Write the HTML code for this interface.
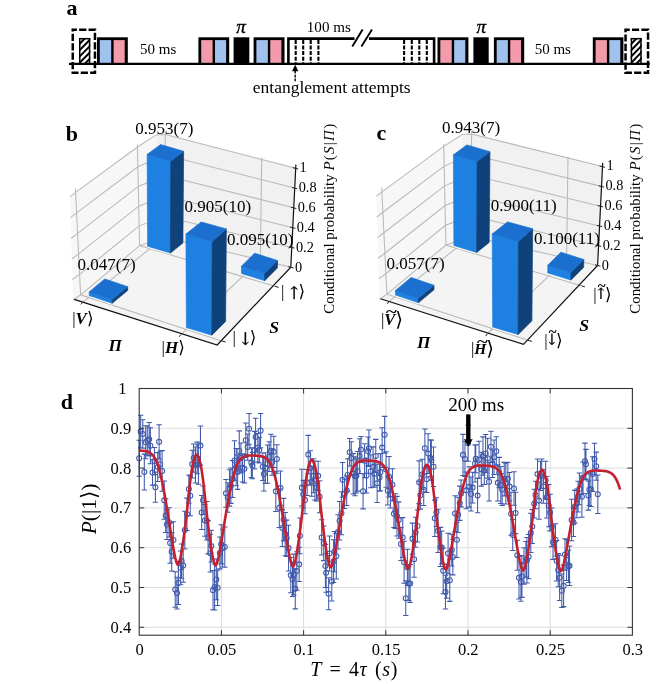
<!DOCTYPE html>
<html lang="en"><head><meta charset="utf-8"><title>Figure</title>
<style>html,body{margin:0;padding:0;background:#fff}svg{display:block}text{font-family:'Liberation Serif','DejaVu Serif',serif;fill:#000}</style>
</head><body>
<svg width="672" height="684" viewBox="0 0 672 684">
<rect width="672" height="684" fill="#fff"/>
<g id="pa">
<text x="66.4" y="14.8" font-size="22" font-weight="bold">a</text>
<line x1="69" y1="63.9" x2="649.8" y2="63.9" stroke="#000" stroke-width="2.3"/>
<rect x="97" y="37.3" width="30.8" height="27.6" fill="#000"/>
<rect x="99.8" y="40.1" width="11.4" height="22.7" fill="#a1c1ef"/>
<rect x="113.6" y="40.1" width="11.1" height="22.7" fill="#f29bab"/>
<rect x="198.4" y="37.3" width="30.8" height="27.6" fill="#000"/>
<rect x="201.2" y="40.1" width="11.4" height="22.7" fill="#f29bab"/>
<rect x="215" y="40.1" width="11.1" height="22.7" fill="#a1c1ef"/>
<rect x="253.6" y="37.3" width="30.9" height="27.6" fill="#000"/>
<rect x="256.4" y="40.1" width="11.45" height="22.7" fill="#a1c1ef"/>
<rect x="270.25" y="40.1" width="11.15" height="22.7" fill="#f29bab"/>
<rect x="437.5" y="37.3" width="30.9" height="27.6" fill="#000"/>
<rect x="440.3" y="40.1" width="11.45" height="22.7" fill="#f29bab"/>
<rect x="454.15" y="40.1" width="11.15" height="22.7" fill="#a1c1ef"/>
<rect x="493.9" y="37.3" width="30.3" height="27.6" fill="#000"/>
<rect x="496.7" y="40.1" width="11.15" height="22.7" fill="#a1c1ef"/>
<rect x="510.25" y="40.1" width="10.85" height="22.7" fill="#f29bab"/>
<rect x="592.8" y="37.3" width="30.6" height="27.6" fill="#000"/>
<rect x="595.6" y="40.1" width="11.3" height="22.7" fill="#f29bab"/>
<rect x="609.3" y="40.1" width="11" height="22.7" fill="#a1c1ef"/>
<rect x="233.6" y="37.3" width="15.7" height="27.6" fill="#000"/>
<rect x="473.4" y="37.3" width="15.3" height="27.6" fill="#000"/>
<path d="M288.4 63.9 V38.599999999999994 H354.5 M369 38.599999999999994 H434.1 V63.9" fill="none" stroke="#000" stroke-width="2.6"/>
<path d="M352.3 46.6 L362.6 29.6 M361.4 46.6 L372 29.6" stroke="#000" stroke-width="1.9" fill="none"/>
<line x1="295.7" y1="39.9" x2="295.7" y2="62.9" stroke="#000" stroke-width="2.1" stroke-dasharray="4 1.6"/>
<line x1="303.2" y1="39.9" x2="303.2" y2="62.9" stroke="#000" stroke-width="2.1" stroke-dasharray="4 1.6"/>
<line x1="310.7" y1="39.9" x2="310.7" y2="62.9" stroke="#000" stroke-width="2.1" stroke-dasharray="4 1.6"/>
<line x1="318.4" y1="39.9" x2="318.4" y2="62.9" stroke="#000" stroke-width="2.1" stroke-dasharray="4 1.6"/>
<line x1="404.1" y1="39.9" x2="404.1" y2="62.9" stroke="#000" stroke-width="2.1" stroke-dasharray="4 1.6"/>
<line x1="411.8" y1="39.9" x2="411.8" y2="62.9" stroke="#000" stroke-width="2.1" stroke-dasharray="4 1.6"/>
<line x1="419.3" y1="39.9" x2="419.3" y2="62.9" stroke="#000" stroke-width="2.1" stroke-dasharray="4 1.6"/>
<line x1="426.8" y1="39.9" x2="426.8" y2="62.9" stroke="#000" stroke-width="2.1" stroke-dasharray="4 1.6"/>
<rect x="72.75" y="29.8" width="22.2" height="43" fill="none" stroke="#000" stroke-width="2.5" stroke-dasharray="7.2 2.2" stroke-dashoffset="3"/>
<clipPath id="h1"><rect x="79" y="38" width="11.3" height="25.9"/></clipPath>
<path d="M78 32.9 L91.3 19.4 M78 39.2 L91.3 25.7 M78 45.5 L91.3 32 M78 51.8 L91.3 38.3 M78 58.1 L91.3 44.6 M78 64.4 L91.3 50.9 M78 70.7 L91.3 57.2 M78 77 L91.3 63.5 M78 83.3 L91.3 69.8 M78 89.6 L91.3 76.1" stroke="#000" stroke-width="2" fill="none" clip-path="url(#h1)"/>
<rect x="79.75" y="38.7" width="9.8" height="25.2" fill="none" stroke="#000" stroke-width="1.5"/>
<rect x="625.55" y="29.8" width="22.5" height="43" fill="none" stroke="#000" stroke-width="2.5" stroke-dasharray="7.2 2.2" stroke-dashoffset="3"/>
<clipPath id="h2"><rect x="630.7" y="38" width="11" height="25.9"/></clipPath>
<path d="M629.7 32.9 L642.7 19.4 M629.7 39.2 L642.7 25.7 M629.7 45.5 L642.7 32 M629.7 51.8 L642.7 38.3 M629.7 58.1 L642.7 44.6 M629.7 64.4 L642.7 50.9 M629.7 70.7 L642.7 57.2 M629.7 77 L642.7 63.5 M629.7 83.3 L642.7 69.8 M629.7 89.6 L642.7 76.1" stroke="#000" stroke-width="2" fill="none" clip-path="url(#h2)"/>
<rect x="631.45" y="38.7" width="9.5" height="25.2" fill="none" stroke="#000" stroke-width="1.5"/>
<text x="140.1" y="53.7" font-size="15">50 ms</text>
<text x="534.7" y="53.7" font-size="15">50 ms</text>
<text transform="translate(306.8 31.7) scale(1.05 1)" font-size="14.38">100 ms</text>
<text x="240.9" y="32.6" font-size="19" font-style="italic" text-anchor="middle" stroke="#000" stroke-width="0.35">π</text>
<text x="481.3" y="32.6" font-size="19" font-style="italic" text-anchor="middle" stroke="#000" stroke-width="0.35">π</text>
<text transform="translate(252.8 92.8) scale(1.11 1)" font-size="15.77">entanglement attempts</text>
<polygon points="295.2,64.8 298.4,71.2 292,71.2" fill="#000"/>
<line x1="295.2" y1="71" x2="295.2" y2="82" stroke="#000" stroke-width="1.4" stroke-dasharray="2.6 1.2"/>
</g>
<g transform="translate(0 0)">
<polygon points="70,197 75.6,192.4 137.3,147 156.2,134.9 156.4,239.6 139.6,245.6 80.6,294.8 73,300.2" fill="#f7f7f7"/>
<polygon points="156.2,134.9 165.2,133.9 295.6,167.6 290.8,267.2 164.8,237 156.4,239.6" fill="#f1f1f1"/>
<polygon points="73,300.2 139.6,245.6 156.4,239.6 164.8,237 290.8,267.2 217,344.8" fill="#f4f4f4"/>
<path d="M69.9 196.9 L75.6 192.4 L137.5 147 L156.2 134.9 L165.2 134.6 L295.6 168.3 M70.54 217.56 L76.6 212.88 L137.92 166.72 L165.12 155.08 L294.64 188.08 M71.18 238.22 L77.6 233.36 L138.34 186.44 L165.04 175.56 L293.68 207.86 M71.82 258.88 L78.6 253.84 L138.76 206.16 L164.96 196.04 L292.72 227.64 M72.46 279.54 L79.6 274.32 L139.18 225.88 L164.88 216.52 L291.76 247.42 M73.1 300.2 L80.6 294.8 L139.6 245.6 L164.8 237 L290.8 267.2 M75.4 188 L80.6 294.8 L221.7 340.9 M137.4 144.5 L139.6 245.6 L274.9 286.3 M261.7 157.4 L260.3 260.0 L180.8 334.6 M165.3 131.5 L164.8 237.0 L82.5 302.3" fill="none" stroke="#b9b9b9" stroke-width="1.05"/>
<polyline points="147.6,247.1 170.4,254" fill="none" stroke="#fff" stroke-width="1.2"/>
<polygon points="147.6,246.2 170.4,253.1 170.77,161 147.14,154.4" fill="#1e80e1" stroke="#1e80e1" stroke-width="0.7" stroke-linejoin="round"/>
<polygon points="170.4,253.1 182.9,243 183.63,151.3 170.77,161" fill="#0f427a" stroke="#0f427a" stroke-width="0.7" stroke-linejoin="round"/>
<polygon points="147.14,154.4 160.6,144.6 183.63,151.3 170.77,161" fill="#1b6fce" stroke="#1b6fce" stroke-width="0.7" stroke-linejoin="round"/>
<polyline points="89.2,296.5 112.1,304.2" fill="none" stroke="#fff" stroke-width="1.2"/>
<polygon points="89.2,295.6 112.1,303.3 112.11,299.6 89.18,291.9" fill="#1e80e1" stroke="#1e80e1" stroke-width="0.7" stroke-linejoin="round"/>
<polygon points="112.1,303.3 127.7,290.4 127.73,286.7 112.11,299.6" fill="#0f427a" stroke="#0f427a" stroke-width="0.7" stroke-linejoin="round"/>
<polygon points="89.18,291.9 104.8,278.9 127.73,286.7 112.11,299.6" fill="#1b6fce" stroke="#1b6fce" stroke-width="0.7" stroke-linejoin="round"/>
<polyline points="241.5,274.5 264.7,281.6" fill="none" stroke="#fff" stroke-width="1.2"/>
<polygon points="241.5,273.6 264.7,280.7 264.73,273.3 241.46,266.2" fill="#1e80e1" stroke="#1e80e1" stroke-width="0.7" stroke-linejoin="round"/>
<polygon points="264.7,280.7 277.4,267.9 277.46,260.5 264.73,273.3" fill="#0f427a" stroke="#0f427a" stroke-width="0.7" stroke-linejoin="round"/>
<polygon points="241.46,266.2 254.6,253.2 277.46,260.5 264.73,273.3" fill="#1b6fce" stroke="#1b6fce" stroke-width="0.7" stroke-linejoin="round"/>
<polyline points="186.4,328.5 211.8,336.1" fill="none" stroke="#fff" stroke-width="1.2"/>
<polygon points="186.4,327.6 211.8,335.2 212.17,241.5 185.93,234" fill="#1e80e1" stroke="#1e80e1" stroke-width="0.7" stroke-linejoin="round"/>
<polygon points="211.8,335.2 225.6,321.4 226.34,228.9 212.17,241.5" fill="#0f427a" stroke="#0f427a" stroke-width="0.7" stroke-linejoin="round"/>
<polygon points="185.93,234 201.2,222 226.34,228.9 212.17,241.5" fill="#1b6fce" stroke="#1b6fce" stroke-width="0.7" stroke-linejoin="round"/>
<path d="M74.2 299.4 L217.2 345.0 L290.8 267.2 L295.9 164.6" fill="none" stroke="#111" stroke-width="1.2"/>
<path d="M82.5 302.3 L81.0 304.4 M180.8 334.6 L179.3 336.7 M221.7 340.9 L225.6 342 M274.9 286.3 L278.6 287.4 M292.8 167.7 L298.2 169 M291.88 187.48 L297.28 188.78 M290.96 207.26 L296.36 208.56 M290.04 227.04 L295.44 228.34 M289.12 246.82 L294.52 248.12 M288.2 266.6 L293.6 267.9" fill="none" stroke="#222" stroke-width="1"/>
<text x="299.6" y="172.2" font-size="14.3">1</text>
<text x="298.68" y="192.12" font-size="14.3">0.8</text>
<text x="297.76" y="212.04" font-size="14.3">0.6</text>
<text x="296.84" y="231.96" font-size="14.3">0.4</text>
<text x="295.92" y="251.88" font-size="14.3">0.2</text>
<text x="295" y="271.8" font-size="14.3">0</text>
<text transform="translate(333.9 313.7) rotate(-90)" font-size="14.9">Conditional probability <tspan letter-spacing="1.3"><tspan font-style="italic">P</tspan>(<tspan font-style="italic">S</tspan>|<tspan font-style="italic">Π</tspan>)</tspan></text>
<text x="135.3" y="133.9" font-size="17">0.953(7)</text>
<text x="77.6" y="270.4" font-size="17">0.047(7)</text>
<text x="184.5" y="211.6" font-size="17">0.905(10)</text>
<text x="226.9" y="245.0" font-size="17">0.095(10)</text>
<text x="65.8" y="140.9" font-size="22" font-weight="bold">b</text>
<text x="108.6" y="350.8" font-size="17.3" font-weight="bold" font-style="italic">Π</text>
<text x="269.2" y="333.0" font-size="17.6" font-weight="bold" font-style="italic">S</text>
<text x="72.2" y="324.2" font-size="17">|<tspan font-weight="bold" font-style="italic" font-size="17">V</tspan><tspan font-size="17" dy="0">⟩</tspan></text>
<text x="161.6" y="353.4" font-size="17">|<tspan font-weight="bold" font-style="italic" font-size="17">H</tspan><tspan font-size="17" dy="0">⟩</tspan></text>
<text x="232.4" y="342.6" font-size="17">| <tspan font-family="DejaVu Math TeX Gyre" font-size="15.5" dx="1" dy="0" stroke="#000" stroke-width="0.3">↓</tspan><tspan dy="0">⟩</tspan></text>
<text x="281.0" y="297.4" font-size="17">| <tspan font-family="DejaVu Math TeX Gyre" font-size="15.5" dx="1" dy="0" stroke="#000" stroke-width="0.3">↑</tspan><tspan dy="0">⟩</tspan></text>
</g>
<g transform="translate(306.3 -0.6)">
<polygon points="70,197 75.6,192.4 137.3,147 156.2,134.9 156.4,239.6 139.6,245.6 80.6,294.8 73,300.2" fill="#f7f7f7"/>
<polygon points="156.2,134.9 165.2,133.9 296.1,166.5 291.3,266.1 164.8,237 156.4,239.6" fill="#f1f1f1"/>
<polygon points="73,300.2 139.6,245.6 156.4,239.6 164.8,237 291.3,266.1 217,344.8" fill="#f4f4f4"/>
<path d="M69.9 196.9 L75.6 192.4 L137.5 147 L156.2 134.9 L165.2 134.6 L296.1 167.2 M70.54 217.56 L76.6 212.88 L137.92 166.72 L165.12 155.08 L295.14 186.98 M71.18 238.22 L77.6 233.36 L138.34 186.44 L165.04 175.56 L294.18 206.76 M71.82 258.88 L78.6 253.84 L138.76 206.16 L164.96 196.04 L293.22 226.54 M72.46 279.54 L79.6 274.32 L139.18 225.88 L164.88 216.52 L292.26 246.32 M73.1 300.2 L80.6 294.8 L139.6 245.6 L164.8 237 L291.3 266.1 M75.4 188 L80.6 294.8 L221.7 340.9 M137.4 144.5 L139.6 245.6 L274.9 286.3 M261.7 157.4 L260.3 260.0 L180.8 334.6 M165.3 131.5 L164.8 237.0 L82.5 302.3" fill="none" stroke="#b9b9b9" stroke-width="1.05"/>
<polyline points="147.6,247.1 170.4,254" fill="none" stroke="#fff" stroke-width="1.2"/>
<polygon points="147.6,246.2 170.4,253.1 170.76,161.97 147.15,155.36" fill="#1e80e1" stroke="#1e80e1" stroke-width="0.7" stroke-linejoin="round"/>
<polygon points="170.4,253.1 182.9,243 183.63,152.26 170.76,161.97" fill="#0f427a" stroke="#0f427a" stroke-width="0.7" stroke-linejoin="round"/>
<polygon points="147.15,155.36 160.6,145.56 183.63,152.26 170.76,161.97" fill="#1b6fce" stroke="#1b6fce" stroke-width="0.7" stroke-linejoin="round"/>
<polyline points="89.2,296.5 112.1,304.2" fill="none" stroke="#fff" stroke-width="1.2"/>
<polygon points="89.2,295.6 112.1,303.3 112.12,298.81 89.18,291.11" fill="#1e80e1" stroke="#1e80e1" stroke-width="0.7" stroke-linejoin="round"/>
<polygon points="112.1,303.3 127.7,290.4 127.74,285.91 112.12,298.81" fill="#0f427a" stroke="#0f427a" stroke-width="0.7" stroke-linejoin="round"/>
<polygon points="89.18,291.11 104.8,278.11 127.74,285.91 112.12,298.81" fill="#1b6fce" stroke="#1b6fce" stroke-width="0.7" stroke-linejoin="round"/>
<polyline points="241.5,274.5 264.7,281.6" fill="none" stroke="#fff" stroke-width="1.2"/>
<polygon points="241.5,273.6 264.7,280.7 264.73,272.91 241.46,265.81" fill="#1e80e1" stroke="#1e80e1" stroke-width="0.7" stroke-linejoin="round"/>
<polygon points="264.7,280.7 277.4,267.9 277.46,260.11 264.73,272.91" fill="#0f427a" stroke="#0f427a" stroke-width="0.7" stroke-linejoin="round"/>
<polygon points="241.46,265.81 254.6,252.81 277.46,260.11 264.73,272.91" fill="#1b6fce" stroke="#1b6fce" stroke-width="0.7" stroke-linejoin="round"/>
<polyline points="186.4,328.5 211.8,336.1" fill="none" stroke="#fff" stroke-width="1.2"/>
<polygon points="186.4,327.6 211.8,335.2 212.17,242.02 185.93,234.52" fill="#1e80e1" stroke="#1e80e1" stroke-width="0.7" stroke-linejoin="round"/>
<polygon points="211.8,335.2 225.6,321.4 226.34,229.41 212.17,242.02" fill="#0f427a" stroke="#0f427a" stroke-width="0.7" stroke-linejoin="round"/>
<polygon points="185.93,234.52 201.2,222.51 226.34,229.41 212.17,242.02" fill="#1b6fce" stroke="#1b6fce" stroke-width="0.7" stroke-linejoin="round"/>
<path d="M74.2 299.4 L217.2 345.0 L291.3 266.1 L296.4 163.5" fill="none" stroke="#111" stroke-width="1.2"/>
<path d="M82.5 302.3 L81.0 304.4 M180.8 334.6 L179.3 336.7 M221.7 340.9 L225.6 342 M274.9 286.3 L278.6 287.4 M293.3 166.6 L298.7 167.9 M292.38 186.38 L297.78 187.68 M291.46 206.16 L296.86 207.46 M290.54 225.94 L295.94 227.24 M289.62 245.72 L295.02 247.02 M288.7 265.5 L294.1 266.8" fill="none" stroke="#222" stroke-width="1"/>
<text x="300.1" y="171.1" font-size="14.3">1</text>
<text x="299.18" y="191.02" font-size="14.3">0.8</text>
<text x="298.26" y="210.94" font-size="14.3">0.6</text>
<text x="297.34" y="230.86" font-size="14.3">0.4</text>
<text x="296.42" y="250.78" font-size="14.3">0.2</text>
<text x="295.5" y="270.7" font-size="14.3">0</text>
<text transform="translate(333.6 314.3) rotate(-90)" font-size="14.9">Conditional probability <tspan letter-spacing="1.3"><tspan font-style="italic">P</tspan>(<tspan font-style="italic">S</tspan>|<tspan font-style="italic">Π</tspan>)</tspan></text>
<text x="135.8" y="133.9" font-size="17">0.943(7)</text>
<text x="80.2" y="269.3" font-size="17">0.057(7)</text>
<text x="184.5" y="211.6" font-size="17">0.900(11)</text>
<text x="227.6" y="245.0" font-size="17">0.100(11)</text>
<text x="70.2" y="140.9" font-size="22" font-weight="bold">c</text>
<text x="110.8" y="349.0" font-size="17.3" font-weight="bold" font-style="italic">Π</text>
<text x="272.9" y="331.8" font-size="17.6" font-weight="bold" font-style="italic">S</text>
<text x="74.6" y="325.6" font-size="17">|<tspan font-weight="bold" font-style="italic" font-size="16.5">V</tspan><tspan font-size="20" dy="1.3">⟩</tspan></text>
<text transform="translate(85.0 316.6) scale(1.6 1)" font-size="13" font-weight="bold" text-anchor="middle">~</text>
<text x="164.6" y="354.2" font-size="17">|<tspan font-weight="bold" font-style="italic" font-size="15.5">H</tspan><tspan font-size="20" dy="1.3">⟩</tspan></text>
<text transform="translate(176.2 346.4) scale(1.6 1)" font-size="13" font-weight="bold" text-anchor="middle">~</text>
<text x="238.0" y="346.6" font-size="17">|<tspan font-family="DejaVu Math TeX Gyre" font-size="13.6" dx="0.6" dy="-2.6" stroke="#000" stroke-width="0.3">↓</tspan><tspan dy="2.6">⟩</tspan></text>
<text transform="translate(246.3 336.6) scale(1.25 1)" font-size="12" font-weight="bold" text-anchor="middle">~</text>
<text x="287.0" y="300.2" font-size="17">|<tspan font-family="DejaVu Math TeX Gyre" font-size="13.6" dx="0.6" dy="-2.6" stroke="#000" stroke-width="0.3">↑</tspan><tspan dy="2.6">⟩</tspan></text>
<text transform="translate(295.3 290.2) scale(1.25 1)" font-size="12" font-weight="bold" text-anchor="middle">~</text>
</g>
<g id="pd">
<path d="M221.4 388.5 V635.2 M303.6 388.5 V635.2 M385.8 388.5 V635.2 M468 388.5 V635.2 M550.2 388.5 V635.2 M139.2 428.3 H632.4 M139.2 468.1 H632.4 M139.2 507.9 H632.4 M139.2 547.7 H632.4 M139.2 587.5 H632.4 M139.2 627.3 H632.4" stroke="#dcdcdc" stroke-width="1" fill="none"/>
<clipPath id="cd"><rect x="139.2" y="388.5" width="493.2" height="246.7"/></clipPath>
<g><path d="M139.2 440.23 V476.24 M136.5 440.23 h5.4 M136.5 476.24 h5.4 M140.66 415.16 V447.86 M137.96 415.16 h5.4 M137.96 447.86 h5.4 M142.78 419.68 V448.13 M140.08 419.68 h5.4 M140.08 448.13 h5.4 M144.31 454.14 V489.99 M141.61 454.14 h5.4 M141.61 489.99 h5.4 M145.67 425.71 V458.67 M142.97 425.71 h5.4 M142.97 458.67 h5.4 M147.26 425.92 V454.9 M144.56 425.92 h5.4 M144.56 454.9 h5.4 M149.16 422.45 V456.08 M146.46 422.45 h5.4 M146.46 456.08 h5.4 M150.4 427.68 V463.66 M147.7 427.68 h5.4 M147.7 463.66 h5.4 M152.52 459.82 V485.13 M149.82 459.82 h5.4 M149.82 485.13 h5.4 M154.43 447.56 V474.63 M151.73 447.56 h5.4 M151.73 474.63 h5.4 M155.39 472.13 V502.28 M152.69 472.13 h5.4 M152.69 502.28 h5.4 M157.73 452.61 V481.46 M155.03 452.61 h5.4 M155.03 481.46 h5.4 M159.09 424.79 V458.95 M156.39 424.79 h5.4 M156.39 458.95 h5.4 M160.17 451.09 V477.26 M157.47 451.09 h5.4 M157.47 477.26 h5.4 M162.16 450.64 V491.16 M159.46 450.64 h5.4 M159.46 491.16 h5.4 M164.24 481.04 V519.29 M161.54 481.04 h5.4 M161.54 519.29 h5.4 M165.7 498.74 V532.46 M163 498.74 h5.4 M163 532.46 h5.4 M166.98 509.52 V539.44 M164.28 509.52 h5.4 M164.28 539.44 h5.4 M169.02 507.69 V536.95 M166.32 507.69 h5.4 M166.32 536.95 h5.4 M170.16 522.78 V563.24 M167.46 522.78 h5.4 M167.46 563.24 h5.4 M171.67 532.63 V570.9 M168.97 532.63 h5.4 M168.97 570.9 h5.4 M173.39 521.83 V558.32 M170.69 521.83 h5.4 M170.69 558.32 h5.4 M175.21 571.8 V607.24 M172.51 571.8 h5.4 M172.51 607.24 h5.4 M176.98 577.24 V608.91 M174.28 577.24 h5.4 M174.28 608.91 h5.4 M178.43 561.55 V604.47 M175.73 561.55 h5.4 M175.73 604.47 h5.4 M180.61 550.96 V584.71 M177.91 550.96 h5.4 M177.91 584.71 h5.4 M181.64 543.97 V578.29 M178.94 543.97 h5.4 M178.94 578.29 h5.4 M183.22 549.04 V582.19 M180.52 549.04 h5.4 M180.52 582.19 h5.4 M184.83 511.17 V548.91 M182.13 511.17 h5.4 M182.13 548.91 h5.4 M186.97 498.13 V530.4 M184.27 498.13 h5.4 M184.27 530.4 h5.4 M188.87 474.9 V503.21 M186.17 474.9 h5.4 M186.17 503.21 h5.4 M190.26 475.95 V515.69 M187.56 475.95 h5.4 M187.56 515.69 h5.4 M192.23 450.25 V478.04 M189.53 450.25 h5.4 M189.53 478.04 h5.4 M193.67 444.05 V472.14 M190.97 444.05 h5.4 M190.97 472.14 h5.4 M195.45 446.95 V483.09 M192.75 446.95 h5.4 M192.75 483.09 h5.4 M197.16 442.11 V473.71 M194.46 442.11 h5.4 M194.46 473.71 h5.4 M198.43 444.97 V484.27 M195.73 444.97 h5.4 M195.73 484.27 h5.4 M200.46 426.07 V465.14 M197.76 426.07 h5.4 M197.76 465.14 h5.4 M201.67 495.4 V529.53 M198.97 495.4 h5.4 M198.97 529.53 h5.4 M203.09 485.99 V514.42 M200.39 485.99 h5.4 M200.39 514.42 h5.4 M204.91 504.57 V536.26 M202.21 504.57 h5.4 M202.21 536.26 h5.4 M206.77 501.55 V539.93 M204.07 501.55 h5.4 M204.07 539.93 h5.4 M208.08 520.64 V553.85 M205.38 520.64 h5.4 M205.38 553.85 h5.4 M210.29 534.34 V571.99 M207.59 534.34 h5.4 M207.59 571.99 h5.4 M211.3 530.18 V562.03 M208.6 530.18 h5.4 M208.6 562.03 h5.4 M213.02 570.43 V609.84 M210.32 570.43 h5.4 M210.32 609.84 h5.4 M214.59 564.09 V609.91 M211.89 564.09 h5.4 M211.89 609.91 h5.4 M216.33 559.05 V599.83 M213.63 559.05 h5.4 M213.63 599.83 h5.4 M217.62 570.2 V605.42 M214.92 570.2 h5.4 M214.92 605.42 h5.4 M219.88 537.03 V568.88 M217.18 537.03 h5.4 M217.18 568.88 h5.4 M221.19 524.81 V563.88 M218.49 524.81 h5.4 M218.49 563.88 h5.4 M222.62 529.22 V567.03 M219.92 529.22 h5.4 M219.92 567.03 h5.4 M224.8 526.95 V567.2 M222.1 526.95 h5.4 M222.1 567.2 h5.4 M226.01 479.41 V507.22 M223.31 479.41 h5.4 M223.31 507.22 h5.4 M227.78 482.66 V512.24 M225.08 482.66 h5.4 M225.08 512.24 h5.4 M229.56 469.74 V506.1 M226.86 469.74 h5.4 M226.86 506.1 h5.4 M230.92 468.03 V503.35 M228.22 468.03 h5.4 M228.22 503.35 h5.4 M232.63 460.57 V497.47 M229.93 460.57 h5.4 M229.93 497.47 h5.4 M234.53 440.81 V480.34 M231.83 440.81 h5.4 M231.83 480.34 h5.4 M236.17 448.5 V485.73 M233.47 448.5 h5.4 M233.47 485.73 h5.4 M237.6 454.86 V489.39 M234.9 454.86 h5.4 M234.9 489.39 h5.4 M239.28 430.86 V471.32 M236.58 430.86 h5.4 M236.58 471.32 h5.4 M240.91 443 V472.87 M238.21 443 h5.4 M238.21 472.87 h5.4 M242.54 453.73 V482 M239.84 453.73 h5.4 M239.84 482 h5.4 M244.4 454.36 V483.01 M241.7 454.36 h5.4 M241.7 483.01 h5.4 M245.78 423.04 V457.39 M243.08 423.04 h5.4 M243.08 457.39 h5.4 M247.7 433.99 V460.22 M245 433.99 h5.4 M245 460.22 h5.4 M249.1 413.4 V444.21 M246.4 413.4 h5.4 M246.4 444.21 h5.4 M251.33 447.73 V477.53 M248.63 447.73 h5.4 M248.63 477.53 h5.4 M252.32 452.48 V478.69 M249.62 452.48 h5.4 M249.62 478.69 h5.4 M254.64 431.39 V468.91 M251.94 431.39 h5.4 M251.94 468.91 h5.4 M255.61 418.19 V455.8 M252.91 418.19 h5.4 M252.91 455.8 h5.4 M257.82 433.56 V461.9 M255.12 433.56 h5.4 M255.12 461.9 h5.4 M259.32 437.22 V462.99 M256.62 437.22 h5.4 M256.62 462.99 h5.4 M260.57 413.46 V447.8 M257.87 413.46 h5.4 M257.87 447.8 h5.4 M262.76 452.95 V480.59 M260.06 452.95 h5.4 M260.06 480.59 h5.4 M263.9 457.19 V490.9 M261.2 457.19 h5.4 M261.2 490.9 h5.4 M265.38 452.7 V483.39 M262.68 452.7 h5.4 M262.68 483.39 h5.4 M267.55 444.93 V483.2 M264.85 444.93 h5.4 M264.85 483.2 h5.4 M269.11 441.83 V471.49 M266.41 441.83 h5.4 M266.41 471.49 h5.4 M270.85 434.34 V467.49 M268.15 434.34 h5.4 M268.15 467.49 h5.4 M272.04 448.82 V475.16 M269.34 448.82 h5.4 M269.34 475.16 h5.4 M273.76 436.29 V467.42 M271.06 436.29 h5.4 M271.06 467.42 h5.4 M275.83 471.28 V511.44 M273.13 471.28 h5.4 M273.13 511.44 h5.4 M276.88 444.77 V473.15 M274.18 444.77 h5.4 M274.18 473.15 h5.4 M279.31 488.66 V527.42 M276.61 488.66 h5.4 M276.61 527.42 h5.4 M280.51 470.94 V505.28 M277.81 470.94 h5.4 M277.81 505.28 h5.4 M282.34 509.62 V546.41 M279.64 509.62 h5.4 M279.64 546.41 h5.4 M283.69 498.36 V540.89 M280.99 498.36 h5.4 M280.99 540.89 h5.4 M285.2 512.5 V555.7 M282.5 512.5 h5.4 M282.5 555.7 h5.4 M286.68 520.14 V556.47 M283.98 520.14 h5.4 M283.98 556.47 h5.4 M288.52 525.2 V571.06 M285.82 525.2 h5.4 M285.82 571.06 h5.4 M290.81 557.52 V592.74 M288.11 557.52 h5.4 M288.11 592.74 h5.4 M292.56 561.94 V596.46 M289.86 561.94 h5.4 M289.86 596.46 h5.4 M293.68 554.1 V594.86 M290.98 554.1 h5.4 M290.98 594.86 h5.4 M295.26 568.82 V608.87 M292.56 568.82 h5.4 M292.56 608.87 h5.4 M296.8 551.76 V590.22 M294.1 551.76 h5.4 M294.1 590.22 h5.4 M299.13 547.29 V581.43 M296.43 547.29 h5.4 M296.43 581.43 h5.4 M299.88 517.91 V553.72 M297.18 517.91 h5.4 M297.18 553.72 h5.4 M301.87 469.32 V505.96 M299.17 469.32 h5.4 M299.17 505.96 h5.4 M303.27 480.36 V507.97 M300.57 480.36 h5.4 M300.57 507.97 h5.4 M304.99 486.46 V513.77 M302.29 486.46 h5.4 M302.29 513.77 h5.4 M307.16 469.47 V495.44 M304.46 469.47 h5.4 M304.46 495.44 h5.4 M308.24 435.39 V473.81 M305.54 435.39 h5.4 M305.54 473.81 h5.4 M310.23 450.78 V485.34 M307.53 450.78 h5.4 M307.53 485.34 h5.4 M311.69 466.74 V496.3 M308.99 466.74 h5.4 M308.99 496.3 h5.4 M313.47 458.83 V492.68 M310.77 458.83 h5.4 M310.77 492.68 h5.4 M314.94 461.13 V500.07 M312.24 461.13 h5.4 M312.24 500.07 h5.4 M316.54 473.92 V500.91 M313.84 473.92 h5.4 M313.84 500.91 h5.4 M318.18 461.2 V490.4 M315.48 461.2 h5.4 M315.48 490.4 h5.4 M319.63 480.75 V512.82 M316.93 480.75 h5.4 M316.93 512.82 h5.4 M321.67 519.81 V555.03 M318.97 519.81 h5.4 M318.97 555.03 h5.4 M323.71 525.97 V560.6 M321.01 525.97 h5.4 M321.01 560.6 h5.4 M325.41 544.37 V587.54 M322.71 544.37 h5.4 M322.71 587.54 h5.4 M326.15 553.51 V592.16 M323.45 553.51 h5.4 M323.45 592.16 h5.4 M328.67 577.77 V609.74 M325.97 577.77 h5.4 M325.97 609.74 h5.4 M329.53 535.9 V571.01 M326.83 535.9 h5.4 M326.83 571.01 h5.4 M331.79 561.99 V601 M329.09 561.99 h5.4 M329.09 601 h5.4 M333.58 539.83 V582.47 M330.88 539.83 h5.4 M330.88 582.47 h5.4 M334.51 531.4 V571.7 M331.81 531.4 h5.4 M331.81 571.7 h5.4 M336.31 533.47 V579.02 M333.61 533.47 h5.4 M333.61 579.02 h5.4 M338 514.84 V549.06 M335.3 514.84 h5.4 M335.3 549.06 h5.4 M339.62 501.58 V539.96 M336.92 501.58 h5.4 M336.92 539.96 h5.4 M341.43 491.66 V534.8 M338.73 491.66 h5.4 M338.73 534.8 h5.4 M342.57 462.57 V497.17 M339.87 462.57 h5.4 M339.87 497.17 h5.4 M344.62 479.16 V508.55 M341.92 479.16 h5.4 M341.92 508.55 h5.4 M346.72 475.65 V505.53 M344.02 475.65 h5.4 M344.02 505.53 h5.4 M347.58 458.84 V491.26 M344.88 458.84 h5.4 M344.88 491.26 h5.4 M349.62 438.5 V466.05 M346.92 438.5 h5.4 M346.92 466.05 h5.4 M351.26 441.7 V474.54 M348.56 441.7 h5.4 M348.56 474.54 h5.4 M353.2 453.62 V494.09 M350.5 453.62 h5.4 M350.5 494.09 h5.4 M355.02 456.89 V495.74 M352.32 456.89 h5.4 M352.32 495.74 h5.4 M356.41 458.73 V493 M353.71 458.73 h5.4 M353.71 493 h5.4 M357.63 451.49 V491.13 M354.93 451.49 h5.4 M354.93 491.13 h5.4 M359.66 438.77 V473.44 M356.96 438.77 h5.4 M356.96 473.44 h5.4 M360.99 436.53 V462.46 M358.29 436.53 h5.4 M358.29 462.46 h5.4 M363.05 473.82 V508.87 M360.35 473.82 h5.4 M360.35 508.87 h5.4 M364.6 443.79 V477.77 M361.9 443.79 h5.4 M361.9 477.77 h5.4 M366.54 458.02 V492.92 M363.84 458.02 h5.4 M363.84 492.92 h5.4 M368.08 436.95 V465.7 M365.38 436.95 h5.4 M365.38 465.7 h5.4 M368.91 430.08 V466.37 M366.21 430.08 h5.4 M366.21 466.37 h5.4 M370.8 454.65 V487.78 M368.1 454.65 h5.4 M368.1 487.78 h5.4 M373.01 446.89 V486.92 M370.31 446.89 h5.4 M370.31 486.92 h5.4 M374.39 460.51 V487.2 M371.69 460.51 h5.4 M371.69 487.2 h5.4 M375.78 439.39 V472.42 M373.08 439.39 h5.4 M373.08 472.42 h5.4 M377.14 464.16 V502.42 M374.44 464.16 h5.4 M374.44 502.42 h5.4 M379.48 463.91 V491.31 M376.78 463.91 h5.4 M376.78 491.31 h5.4 M380.38 453.62 V490.67 M377.68 453.62 h5.4 M377.68 490.67 h5.4 M382.11 427.74 V467.46 M379.41 427.74 h5.4 M379.41 467.46 h5.4 M384.64 416.35 V453.12 M381.94 416.35 h5.4 M381.94 453.12 h5.4 M386.07 451.75 V487.33 M383.37 451.75 h5.4 M383.37 487.33 h5.4 M387.81 476.2 V505.07 M385.11 476.2 h5.4 M385.11 505.07 h5.4 M389.07 456.55 V496.98 M386.37 456.55 h5.4 M386.37 496.98 h5.4 M390.41 480.66 V507.9 M387.71 480.66 h5.4 M387.71 507.9 h5.4 M392.41 468.67 V500.92 M389.71 468.67 h5.4 M389.71 500.92 h5.4 M393.95 499.8 V527.56 M391.25 499.8 h5.4 M391.25 527.56 h5.4 M395.33 493.79 V528.54 M392.63 493.79 h5.4 M392.63 528.54 h5.4 M396.98 496.36 V535.94 M394.28 496.36 h5.4 M394.28 535.94 h5.4 M398.71 501.85 V538.3 M396.01 501.85 h5.4 M396.01 538.3 h5.4 M401.03 527.48 V560.51 M398.33 527.48 h5.4 M398.33 560.51 h5.4 M402.72 517.61 V557.54 M400.02 517.61 h5.4 M400.02 557.54 h5.4 M404.08 541.16 V583.25 M401.38 541.16 h5.4 M401.38 583.25 h5.4 M405.75 580.74 V615.56 M403.05 580.74 h5.4 M403.05 615.56 h5.4 M407.4 549.21 V585.51 M404.7 549.21 h5.4 M404.7 585.51 h5.4 M408.83 566.28 V600.62 M406.13 566.28 h5.4 M406.13 600.62 h5.4 M410.14 564.4 V602.44 M407.44 564.4 h5.4 M407.44 602.44 h5.4 M412.48 523.12 V554.16 M409.78 523.12 h5.4 M409.78 554.16 h5.4 M414.12 541.25 V577.34 M411.42 541.25 h5.4 M411.42 577.34 h5.4 M415.6 517.17 V547.31 M412.9 517.17 h5.4 M412.9 547.31 h5.4 M417.46 509.92 V541.95 M414.76 509.92 h5.4 M414.76 541.95 h5.4 M419.15 460.86 V503.62 M416.45 460.86 h5.4 M416.45 503.62 h5.4 M420.33 481.61 V509.11 M417.63 481.61 h5.4 M417.63 509.11 h5.4 M422.22 459.23 V489.57 M419.52 459.23 h5.4 M419.52 489.57 h5.4 M423.73 474.22 V505.53 M421.03 474.22 h5.4 M421.03 505.53 h5.4 M424.88 429.03 V467.29 M422.18 429.03 h5.4 M422.18 467.29 h5.4 M426.72 465.87 V492.54 M424.02 465.87 h5.4 M424.02 492.54 h5.4 M428.12 433.75 V473.46 M425.42 433.75 h5.4 M425.42 473.46 h5.4 M430.57 439.69 V476.56 M427.87 439.69 h5.4 M427.87 476.56 h5.4 M431.36 440.19 V480.1 M428.66 440.19 h5.4 M428.66 480.1 h5.4 M433.51 446.95 V486.44 M430.81 446.95 h5.4 M430.81 486.44 h5.4 M434.8 500.1 V536.56 M432.1 500.1 h5.4 M432.1 536.56 h5.4 M436.42 497.77 V526.57 M433.72 497.77 h5.4 M433.72 526.57 h5.4 M438.08 509.29 V552.45 M435.38 509.29 h5.4 M435.38 552.45 h5.4 M440.42 527.36 V566.44 M437.72 527.36 h5.4 M437.72 566.44 h5.4 M441.69 531.05 V564.02 M438.99 531.05 h5.4 M438.99 564.02 h5.4 M443.18 547.9 V593.81 M440.48 547.9 h5.4 M440.48 593.81 h5.4 M445.48 575.19 V608.94 M442.78 575.19 h5.4 M442.78 608.94 h5.4 M446.67 564.12 V598.31 M443.97 564.12 h5.4 M443.97 598.31 h5.4 M448.08 533.18 V573.65 M445.38 533.18 h5.4 M445.38 573.65 h5.4 M449.79 559.24 V601.35 M447.09 559.24 h5.4 M447.09 601.35 h5.4 M451.75 534.17 V566 M449.05 534.17 h5.4 M449.05 566 h5.4 M452.83 539.26 V574.88 M450.13 539.26 h5.4 M450.13 574.88 h5.4 M455.1 495.72 V531.42 M452.4 495.72 h5.4 M452.4 531.42 h5.4 M456.87 522.17 V557.41 M454.17 522.17 h5.4 M454.17 557.41 h5.4 M458.11 497.26 V532.43 M455.41 497.26 h5.4 M455.41 532.43 h5.4 M459.72 486.13 V520.37 M457.02 486.13 h5.4 M457.02 520.37 h5.4 M461.07 479.92 V506.86 M458.37 479.92 h5.4 M458.37 506.86 h5.4 M462.99 434.35 V475.42 M460.29 434.35 h5.4 M460.29 475.42 h5.4 M464.97 441.49 V476.47 M462.27 441.49 h5.4 M462.27 476.47 h5.4 M466.27 471.95 V508.76 M463.57 471.95 h5.4 M463.57 508.76 h5.4 M468.12 425.3 V461.19 M465.42 425.3 h5.4 M465.42 461.19 h5.4 M469.19 466.65 V507.12 M466.49 466.65 h5.4 M466.49 507.12 h5.4 M471.01 476.98 V510.9 M468.31 476.98 h5.4 M468.31 510.9 h5.4 M472.64 472.3 V502.95 M469.94 472.3 h5.4 M469.94 502.95 h5.4 M475.05 444.99 V481.94 M472.35 444.99 h5.4 M472.35 481.94 h5.4 M475.77 444.85 V472.7 M473.07 444.85 h5.4 M473.07 472.7 h5.4 M477.58 478.42 V512.81 M474.88 478.42 h5.4 M474.88 512.81 h5.4 M479.05 441.33 V478.01 M476.35 441.33 h5.4 M476.35 478.01 h5.4 M481.29 452.15 V486.13 M478.59 452.15 h5.4 M478.59 486.13 h5.4 M482.95 436.85 V475.17 M480.25 436.85 h5.4 M480.25 475.17 h5.4 M484.29 457.23 V484.43 M481.59 457.23 h5.4 M481.59 484.43 h5.4 M485.63 434.56 V472.45 M482.93 434.56 h5.4 M482.93 472.45 h5.4 M487.66 438.2 V478.14 M484.96 438.2 h5.4 M484.96 478.14 h5.4 M489.05 462.57 V501.04 M486.35 462.57 h5.4 M486.35 501.04 h5.4 M490.94 431.15 V462.17 M488.24 431.15 h5.4 M488.24 462.17 h5.4 M492.53 450 V477.42 M489.83 450 h5.4 M489.83 477.42 h5.4 M494.03 439.98 V474.49 M491.33 439.98 h5.4 M491.33 474.49 h5.4 M496.28 436.71 V465.94 M493.58 436.71 h5.4 M493.58 465.94 h5.4 M497.78 464.7 V501.04 M495.08 464.7 h5.4 M495.08 501.04 h5.4 M499.21 457.35 V487.64 M496.51 457.35 h5.4 M496.51 487.64 h5.4 M500.78 466.55 V503.42 M498.08 466.55 h5.4 M498.08 503.42 h5.4 M502.14 473.58 V505.39 M499.44 473.58 h5.4 M499.44 505.39 h5.4 M504.27 462.35 V495.87 M501.57 462.35 h5.4 M501.57 495.87 h5.4 M505.82 463.2 V503.97 M503.12 463.2 h5.4 M503.12 503.97 h5.4 M507.86 462.3 V495.42 M505.16 462.3 h5.4 M505.16 495.42 h5.4 M509.56 472.54 V500.65 M506.86 472.54 h5.4 M506.86 500.65 h5.4 M511.05 492.29 V535.34 M508.35 492.29 h5.4 M508.35 535.34 h5.4 M512.75 519.56 V550.48 M510.05 519.56 h5.4 M510.05 550.48 h5.4 M514.03 471.84 V505.22 M511.33 471.84 h5.4 M511.33 505.22 h5.4 M515.55 492.17 V533.63 M512.85 492.17 h5.4 M512.85 533.63 h5.4 M517.3 540.34 V570.22 M514.6 540.34 h5.4 M514.6 570.22 h5.4 M518.99 556.47 V598.95 M516.29 556.47 h5.4 M516.29 598.95 h5.4 M520.92 562.51 V601.28 M518.22 562.51 h5.4 M518.22 601.28 h5.4 M521.91 555.61 V597.39 M519.21 555.61 h5.4 M519.21 597.39 h5.4 M524 547.71 V584.23 M521.3 547.71 h5.4 M521.3 584.23 h5.4 M525.94 541.53 V577.12 M523.24 541.53 h5.4 M523.24 577.12 h5.4 M526.91 537.4 V583.08 M524.21 537.4 h5.4 M524.21 583.08 h5.4 M528.62 534.59 V578.68 M525.92 534.59 h5.4 M525.92 578.68 h5.4 M530.81 513.34 V552.43 M528.11 513.34 h5.4 M528.11 552.43 h5.4 M532.27 509.63 V543.41 M529.57 509.63 h5.4 M529.57 543.41 h5.4 M534.22 489.23 V518.06 M531.52 489.23 h5.4 M531.52 518.06 h5.4 M535.54 481.17 V508.82 M532.84 481.17 h5.4 M532.84 508.82 h5.4 M537.49 459.01 V489.22 M534.79 459.01 h5.4 M534.79 489.22 h5.4 M539.01 482.01 V519.2 M536.31 482.01 h5.4 M536.31 519.2 h5.4 M540.51 461.21 V490.59 M537.81 461.21 h5.4 M537.81 490.59 h5.4 M541.67 459.05 V488.33 M538.97 459.05 h5.4 M538.97 488.33 h5.4 M543.34 469.6 V503.25 M540.64 469.6 h5.4 M540.64 503.25 h5.4 M545.63 461.22 V499.12 M542.93 461.22 h5.4 M542.93 499.12 h5.4 M546.75 476.49 V518.09 M544.05 476.49 h5.4 M544.05 518.09 h5.4 M548.74 484.6 V526.66 M546.04 484.6 h5.4 M546.04 526.66 h5.4 M550.14 494.32 V530.86 M547.44 494.32 h5.4 M547.44 530.86 h5.4 M551.8 508.01 V546.61 M549.1 508.01 h5.4 M549.1 546.61 h5.4 M553.01 525.17 V559.37 M550.31 525.17 h5.4 M550.31 559.37 h5.4 M555.45 523.68 V555.98 M552.75 523.68 h5.4 M552.75 555.98 h5.4 M556.59 540.55 V580.92 M553.89 540.55 h5.4 M553.89 580.92 h5.4 M558.26 553.44 V586.75 M555.56 553.44 h5.4 M555.56 586.75 h5.4 M559.64 555.11 V600.44 M556.94 555.11 h5.4 M556.94 600.44 h5.4 M561.83 573.94 V607.48 M559.13 573.94 h5.4 M559.13 607.48 h5.4 M563.63 565.14 V606.62 M560.93 565.14 h5.4 M560.93 606.62 h5.4 M565.01 538.77 V570.1 M562.31 538.77 h5.4 M562.31 570.1 h5.4 M566.62 539.57 V580.47 M563.92 539.57 h5.4 M563.92 580.47 h5.4 M568.55 550.09 V582.54 M565.85 550.09 h5.4 M565.85 582.54 h5.4 M569.53 546.01 V585.42 M566.83 546.01 h5.4 M566.83 585.42 h5.4 M571.61 499.17 V540.81 M568.91 499.17 h5.4 M568.91 540.81 h5.4 M573.46 508.39 V536.48 M570.76 508.39 h5.4 M570.76 536.48 h5.4 M574.73 490.37 V523.19 M572.03 490.37 h5.4 M572.03 523.19 h5.4 M576.88 488.96 V517.77 M574.18 488.96 h5.4 M574.18 517.77 h5.4 M578.11 481.22 V511.96 M575.41 481.22 h5.4 M575.41 511.96 h5.4 M579.41 473.02 V504.77 M576.71 473.02 h5.4 M576.71 504.77 h5.4 M581.91 476.07 V517.3 M579.21 476.07 h5.4 M579.21 517.3 h5.4 M583.04 462.08 V493.52 M580.34 462.08 h5.4 M580.34 493.52 h5.4 M584.97 443.12 V479.59 M582.27 443.12 h5.4 M582.27 479.59 h5.4 M585.95 449.39 V479.11 M583.25 449.39 h5.4 M583.25 479.11 h5.4 M588.32 480.87 V510.12 M585.62 480.87 h5.4 M585.62 510.12 h5.4 M589.31 473.88 V505.41 M586.61 473.88 h5.4 M586.61 505.41 h5.4 M590.93 471.5 V506.54 M588.23 471.5 h5.4 M588.23 506.54 h5.4 M592.72 456.74 V491.35 M590.02 456.74 h5.4 M590.02 491.35 h5.4 M594.51 443.2 V474.79 M591.81 443.2 h5.4 M591.81 474.79 h5.4 M596.22 452.11 V480.23 M593.52 452.11 h5.4 M593.52 480.23 h5.4 M597.81 475.07 V513.55 M595.11 475.07 h5.4 M595.11 513.55 h5.4" stroke="#3f59ab" stroke-width="1.05" fill="none"/>
<g stroke="#3f59ab" stroke-width="1.05" fill="none"><circle cx="139.2" cy="458.23" r="2.5"/><circle cx="140.66" cy="431.51" r="2.5"/><circle cx="142.78" cy="433.9" r="2.5"/><circle cx="144.31" cy="472.06" r="2.5"/><circle cx="145.67" cy="442.19" r="2.5"/><circle cx="147.26" cy="440.41" r="2.5"/><circle cx="149.16" cy="439.26" r="2.5"/><circle cx="150.4" cy="445.67" r="2.5"/><circle cx="152.52" cy="472.47" r="2.5"/><circle cx="154.43" cy="461.09" r="2.5"/><circle cx="155.39" cy="487.2" r="2.5"/><circle cx="157.73" cy="467.03" r="2.5"/><circle cx="159.09" cy="441.87" r="2.5"/><circle cx="160.17" cy="464.18" r="2.5"/><circle cx="162.16" cy="470.9" r="2.5"/><circle cx="164.24" cy="500.16" r="2.5"/><circle cx="165.7" cy="515.6" r="2.5"/><circle cx="166.98" cy="524.48" r="2.5"/><circle cx="169.02" cy="522.32" r="2.5"/><circle cx="170.16" cy="543.01" r="2.5"/><circle cx="171.67" cy="551.76" r="2.5"/><circle cx="173.39" cy="540.07" r="2.5"/><circle cx="175.21" cy="589.52" r="2.5"/><circle cx="176.98" cy="593.08" r="2.5"/><circle cx="178.43" cy="583.01" r="2.5"/><circle cx="180.61" cy="567.83" r="2.5"/><circle cx="181.64" cy="561.13" r="2.5"/><circle cx="183.22" cy="565.62" r="2.5"/><circle cx="184.83" cy="530.04" r="2.5"/><circle cx="186.97" cy="514.26" r="2.5"/><circle cx="188.87" cy="489.05" r="2.5"/><circle cx="190.26" cy="495.82" r="2.5"/><circle cx="192.23" cy="464.14" r="2.5"/><circle cx="193.67" cy="458.09" r="2.5"/><circle cx="195.45" cy="465.02" r="2.5"/><circle cx="197.16" cy="457.91" r="2.5"/><circle cx="198.43" cy="464.62" r="2.5"/><circle cx="200.46" cy="445.61" r="2.5"/><circle cx="201.67" cy="512.47" r="2.5"/><circle cx="203.09" cy="500.21" r="2.5"/><circle cx="204.91" cy="520.41" r="2.5"/><circle cx="206.77" cy="520.74" r="2.5"/><circle cx="208.08" cy="537.24" r="2.5"/><circle cx="210.29" cy="553.17" r="2.5"/><circle cx="211.3" cy="546.1" r="2.5"/><circle cx="213.02" cy="590.13" r="2.5"/><circle cx="214.59" cy="587" r="2.5"/><circle cx="216.33" cy="579.44" r="2.5"/><circle cx="217.62" cy="587.81" r="2.5"/><circle cx="219.88" cy="552.96" r="2.5"/><circle cx="221.19" cy="544.35" r="2.5"/><circle cx="222.62" cy="548.13" r="2.5"/><circle cx="224.8" cy="547.08" r="2.5"/><circle cx="226.01" cy="493.32" r="2.5"/><circle cx="227.78" cy="497.45" r="2.5"/><circle cx="229.56" cy="487.92" r="2.5"/><circle cx="230.92" cy="485.69" r="2.5"/><circle cx="232.63" cy="479.02" r="2.5"/><circle cx="234.53" cy="460.57" r="2.5"/><circle cx="236.17" cy="467.12" r="2.5"/><circle cx="237.6" cy="472.12" r="2.5"/><circle cx="239.28" cy="451.09" r="2.5"/><circle cx="240.91" cy="457.94" r="2.5"/><circle cx="242.54" cy="467.86" r="2.5"/><circle cx="244.4" cy="468.69" r="2.5"/><circle cx="245.78" cy="440.21" r="2.5"/><circle cx="247.7" cy="447.11" r="2.5"/><circle cx="249.1" cy="428.8" r="2.5"/><circle cx="251.33" cy="462.63" r="2.5"/><circle cx="252.32" cy="465.59" r="2.5"/><circle cx="254.64" cy="450.15" r="2.5"/><circle cx="255.61" cy="437" r="2.5"/><circle cx="257.82" cy="447.73" r="2.5"/><circle cx="259.32" cy="450.11" r="2.5"/><circle cx="260.57" cy="430.63" r="2.5"/><circle cx="262.76" cy="466.77" r="2.5"/><circle cx="263.9" cy="474.04" r="2.5"/><circle cx="265.38" cy="468.05" r="2.5"/><circle cx="267.55" cy="464.07" r="2.5"/><circle cx="269.11" cy="456.66" r="2.5"/><circle cx="270.85" cy="450.92" r="2.5"/><circle cx="272.04" cy="461.99" r="2.5"/><circle cx="273.76" cy="451.85" r="2.5"/><circle cx="275.83" cy="491.36" r="2.5"/><circle cx="276.88" cy="458.96" r="2.5"/><circle cx="279.31" cy="508.04" r="2.5"/><circle cx="280.51" cy="488.11" r="2.5"/><circle cx="282.34" cy="528.02" r="2.5"/><circle cx="283.69" cy="519.63" r="2.5"/><circle cx="285.2" cy="534.1" r="2.5"/><circle cx="286.68" cy="538.3" r="2.5"/><circle cx="288.52" cy="548.13" r="2.5"/><circle cx="290.81" cy="575.13" r="2.5"/><circle cx="292.56" cy="579.2" r="2.5"/><circle cx="293.68" cy="574.48" r="2.5"/><circle cx="295.26" cy="588.85" r="2.5"/><circle cx="296.8" cy="570.99" r="2.5"/><circle cx="299.13" cy="564.36" r="2.5"/><circle cx="299.88" cy="535.81" r="2.5"/><circle cx="301.87" cy="487.64" r="2.5"/><circle cx="303.27" cy="494.17" r="2.5"/><circle cx="304.99" cy="500.11" r="2.5"/><circle cx="307.16" cy="482.45" r="2.5"/><circle cx="308.24" cy="454.6" r="2.5"/><circle cx="310.23" cy="468.06" r="2.5"/><circle cx="311.69" cy="481.52" r="2.5"/><circle cx="313.47" cy="475.76" r="2.5"/><circle cx="314.94" cy="480.6" r="2.5"/><circle cx="316.54" cy="487.41" r="2.5"/><circle cx="318.18" cy="475.8" r="2.5"/><circle cx="319.63" cy="496.78" r="2.5"/><circle cx="321.67" cy="537.42" r="2.5"/><circle cx="323.71" cy="543.29" r="2.5"/><circle cx="325.41" cy="565.96" r="2.5"/><circle cx="326.15" cy="572.83" r="2.5"/><circle cx="328.67" cy="593.76" r="2.5"/><circle cx="329.53" cy="553.46" r="2.5"/><circle cx="331.79" cy="581.49" r="2.5"/><circle cx="333.58" cy="561.15" r="2.5"/><circle cx="334.51" cy="551.55" r="2.5"/><circle cx="336.31" cy="556.25" r="2.5"/><circle cx="338" cy="531.95" r="2.5"/><circle cx="339.62" cy="520.77" r="2.5"/><circle cx="341.43" cy="513.23" r="2.5"/><circle cx="342.57" cy="479.87" r="2.5"/><circle cx="344.62" cy="493.85" r="2.5"/><circle cx="346.72" cy="490.59" r="2.5"/><circle cx="347.58" cy="475.05" r="2.5"/><circle cx="349.62" cy="452.27" r="2.5"/><circle cx="351.26" cy="458.12" r="2.5"/><circle cx="353.2" cy="473.86" r="2.5"/><circle cx="355.02" cy="476.32" r="2.5"/><circle cx="356.41" cy="475.87" r="2.5"/><circle cx="357.63" cy="471.31" r="2.5"/><circle cx="359.66" cy="456.11" r="2.5"/><circle cx="360.99" cy="449.5" r="2.5"/><circle cx="363.05" cy="491.34" r="2.5"/><circle cx="364.6" cy="460.78" r="2.5"/><circle cx="366.54" cy="475.47" r="2.5"/><circle cx="368.08" cy="451.32" r="2.5"/><circle cx="368.91" cy="448.22" r="2.5"/><circle cx="370.8" cy="471.22" r="2.5"/><circle cx="373.01" cy="466.91" r="2.5"/><circle cx="374.39" cy="473.85" r="2.5"/><circle cx="375.78" cy="455.9" r="2.5"/><circle cx="377.14" cy="483.29" r="2.5"/><circle cx="379.48" cy="477.61" r="2.5"/><circle cx="380.38" cy="472.14" r="2.5"/><circle cx="382.11" cy="447.6" r="2.5"/><circle cx="384.64" cy="434.73" r="2.5"/><circle cx="386.07" cy="469.54" r="2.5"/><circle cx="387.81" cy="490.64" r="2.5"/><circle cx="389.07" cy="476.76" r="2.5"/><circle cx="390.41" cy="494.28" r="2.5"/><circle cx="392.41" cy="484.79" r="2.5"/><circle cx="393.95" cy="513.68" r="2.5"/><circle cx="395.33" cy="511.17" r="2.5"/><circle cx="396.98" cy="516.15" r="2.5"/><circle cx="398.71" cy="520.08" r="2.5"/><circle cx="401.03" cy="543.99" r="2.5"/><circle cx="402.72" cy="537.58" r="2.5"/><circle cx="404.08" cy="562.2" r="2.5"/><circle cx="405.75" cy="598.15" r="2.5"/><circle cx="407.4" cy="567.36" r="2.5"/><circle cx="408.83" cy="583.45" r="2.5"/><circle cx="410.14" cy="583.42" r="2.5"/><circle cx="412.48" cy="538.64" r="2.5"/><circle cx="414.12" cy="559.3" r="2.5"/><circle cx="415.6" cy="532.24" r="2.5"/><circle cx="417.46" cy="525.94" r="2.5"/><circle cx="419.15" cy="482.24" r="2.5"/><circle cx="420.33" cy="495.36" r="2.5"/><circle cx="422.22" cy="474.4" r="2.5"/><circle cx="423.73" cy="489.87" r="2.5"/><circle cx="424.88" cy="448.16" r="2.5"/><circle cx="426.72" cy="479.2" r="2.5"/><circle cx="428.12" cy="453.6" r="2.5"/><circle cx="430.57" cy="458.13" r="2.5"/><circle cx="431.36" cy="460.15" r="2.5"/><circle cx="433.51" cy="466.69" r="2.5"/><circle cx="434.8" cy="518.33" r="2.5"/><circle cx="436.42" cy="512.17" r="2.5"/><circle cx="438.08" cy="530.87" r="2.5"/><circle cx="440.42" cy="546.9" r="2.5"/><circle cx="441.69" cy="547.53" r="2.5"/><circle cx="443.18" cy="570.86" r="2.5"/><circle cx="445.48" cy="592.06" r="2.5"/><circle cx="446.67" cy="581.22" r="2.5"/><circle cx="448.08" cy="553.41" r="2.5"/><circle cx="449.79" cy="580.29" r="2.5"/><circle cx="451.75" cy="550.09" r="2.5"/><circle cx="452.83" cy="557.07" r="2.5"/><circle cx="455.1" cy="513.57" r="2.5"/><circle cx="456.87" cy="539.79" r="2.5"/><circle cx="458.11" cy="514.84" r="2.5"/><circle cx="459.72" cy="503.25" r="2.5"/><circle cx="461.07" cy="493.39" r="2.5"/><circle cx="462.99" cy="454.88" r="2.5"/><circle cx="464.97" cy="458.98" r="2.5"/><circle cx="466.27" cy="490.36" r="2.5"/><circle cx="468.12" cy="443.25" r="2.5"/><circle cx="469.19" cy="486.89" r="2.5"/><circle cx="471.01" cy="493.94" r="2.5"/><circle cx="472.64" cy="487.62" r="2.5"/><circle cx="475.05" cy="463.46" r="2.5"/><circle cx="475.77" cy="458.77" r="2.5"/><circle cx="477.58" cy="495.61" r="2.5"/><circle cx="479.05" cy="459.67" r="2.5"/><circle cx="481.29" cy="469.14" r="2.5"/><circle cx="482.95" cy="456.01" r="2.5"/><circle cx="484.29" cy="470.83" r="2.5"/><circle cx="485.63" cy="453.51" r="2.5"/><circle cx="487.66" cy="458.17" r="2.5"/><circle cx="489.05" cy="481.8" r="2.5"/><circle cx="490.94" cy="446.66" r="2.5"/><circle cx="492.53" cy="463.71" r="2.5"/><circle cx="494.03" cy="457.23" r="2.5"/><circle cx="496.28" cy="451.32" r="2.5"/><circle cx="497.78" cy="482.87" r="2.5"/><circle cx="499.21" cy="472.5" r="2.5"/><circle cx="500.78" cy="484.98" r="2.5"/><circle cx="502.14" cy="489.49" r="2.5"/><circle cx="504.27" cy="479.11" r="2.5"/><circle cx="505.82" cy="483.59" r="2.5"/><circle cx="507.86" cy="478.86" r="2.5"/><circle cx="509.56" cy="486.6" r="2.5"/><circle cx="511.05" cy="513.81" r="2.5"/><circle cx="512.75" cy="535.02" r="2.5"/><circle cx="514.03" cy="488.53" r="2.5"/><circle cx="515.55" cy="512.9" r="2.5"/><circle cx="517.3" cy="555.28" r="2.5"/><circle cx="518.99" cy="577.71" r="2.5"/><circle cx="520.92" cy="581.9" r="2.5"/><circle cx="521.91" cy="576.5" r="2.5"/><circle cx="524" cy="565.97" r="2.5"/><circle cx="525.94" cy="559.33" r="2.5"/><circle cx="526.91" cy="560.24" r="2.5"/><circle cx="528.62" cy="556.63" r="2.5"/><circle cx="530.81" cy="532.88" r="2.5"/><circle cx="532.27" cy="526.52" r="2.5"/><circle cx="534.22" cy="503.65" r="2.5"/><circle cx="535.54" cy="494.99" r="2.5"/><circle cx="537.49" cy="474.12" r="2.5"/><circle cx="539.01" cy="500.61" r="2.5"/><circle cx="540.51" cy="475.9" r="2.5"/><circle cx="541.67" cy="473.69" r="2.5"/><circle cx="543.34" cy="486.43" r="2.5"/><circle cx="545.63" cy="480.17" r="2.5"/><circle cx="546.75" cy="497.29" r="2.5"/><circle cx="548.74" cy="505.63" r="2.5"/><circle cx="550.14" cy="512.59" r="2.5"/><circle cx="551.8" cy="527.31" r="2.5"/><circle cx="553.01" cy="542.27" r="2.5"/><circle cx="555.45" cy="539.83" r="2.5"/><circle cx="556.59" cy="560.73" r="2.5"/><circle cx="558.26" cy="570.1" r="2.5"/><circle cx="559.64" cy="577.77" r="2.5"/><circle cx="561.83" cy="590.71" r="2.5"/><circle cx="563.63" cy="585.88" r="2.5"/><circle cx="565.01" cy="554.44" r="2.5"/><circle cx="566.62" cy="560.02" r="2.5"/><circle cx="568.55" cy="566.32" r="2.5"/><circle cx="569.53" cy="565.72" r="2.5"/><circle cx="571.61" cy="519.99" r="2.5"/><circle cx="573.46" cy="522.44" r="2.5"/><circle cx="574.73" cy="506.78" r="2.5"/><circle cx="576.88" cy="503.37" r="2.5"/><circle cx="578.11" cy="496.59" r="2.5"/><circle cx="579.41" cy="488.89" r="2.5"/><circle cx="581.91" cy="496.69" r="2.5"/><circle cx="583.04" cy="477.8" r="2.5"/><circle cx="584.97" cy="461.35" r="2.5"/><circle cx="585.95" cy="464.25" r="2.5"/><circle cx="588.32" cy="495.49" r="2.5"/><circle cx="589.31" cy="489.65" r="2.5"/><circle cx="590.93" cy="489.02" r="2.5"/><circle cx="592.72" cy="474.04" r="2.5"/><circle cx="594.51" cy="458.99" r="2.5"/><circle cx="596.22" cy="466.17" r="2.5"/><circle cx="597.81" cy="494.31" r="2.5"/></g>
<polyline points="139.2,450.59 140,450.62 140.81,450.66 141.61,450.71 142.41,450.76 143.21,450.84 144.02,450.93 144.82,451.04 145.62,451.18 146.43,451.36 147.23,451.57 148.03,451.85 148.83,452.18 149.64,452.6 150.44,453.1 151.24,453.71 152.04,454.43 152.85,455.28 153.65,456.3 154.45,457.51 155.26,458.92 156.06,460.58 156.86,462.5 157.66,464.69 158.47,467.16 159.27,469.9 160.07,472.92 160.88,476.2 161.68,479.74 162.48,483.54 163.28,487.56 164.09,491.8 164.89,496.23 165.69,500.83 166.49,505.57 167.3,510.44 168.1,515.41 168.9,520.45 169.71,525.53 170.51,530.6 171.31,535.63 172.11,540.59 172.92,545.4 173.72,549.99 174.52,554.23 175.33,558.01 176.13,561.22 176.93,563.57 177.73,564.65 178.54,564.12 179.34,562.15 180.14,559.07 180.94,555.17 181.75,550.61 182.55,545.5 183.35,539.96 184.16,534.08 184.96,527.88 185.76,521.34 186.56,514.47 187.37,507.27 188.17,499.81 188.97,492.34 189.78,485.13 190.58,478.44 191.38,472.56 192.18,467.7 192.99,463.79 193.79,460.67 194.59,458.15 195.4,456.19 196.2,455.01 197,454.85 197.8,455.77 198.61,457.55 199.41,459.95 200.21,462.9 201.01,466.58 201.82,471.14 202.62,476.73 203.42,483.2 204.23,490.29 205.03,497.73 205.83,505.24 206.63,512.57 207.44,519.57 208.24,526.23 209.04,532.56 209.85,538.55 210.65,544.21 211.45,549.48 212.25,554.24 213.06,558.39 213.86,561.79 214.66,564.2 215.46,565.28 216.27,564.78 217.07,562.87 217.87,559.98 218.68,556.45 219.48,552.43 220.28,548.04 221.08,543.38 221.89,538.56 222.69,533.65 223.49,528.69 224.3,523.72 225.1,518.77 225.9,513.88 226.7,509.09 227.51,504.42 228.31,499.89 229.11,495.52 229.92,491.33 230.72,487.35 231.52,483.59 232.32,480.07 233.13,476.82 233.93,473.83 234.73,471.11 235.53,468.65 236.34,466.46 237.14,464.55 237.94,462.91 238.75,461.5 239.55,460.32 240.35,459.33 241.15,458.51 241.96,457.83 242.76,457.26 243.56,456.81 244.37,456.44 245.17,456.15 245.97,455.94 246.77,455.78 247.58,455.66 248.38,455.58 249.18,455.53 249.98,455.5 250.79,455.5 251.59,455.5 252.39,455.53 253.2,455.56 254,455.59 254.8,455.63 255.6,455.66 256.41,455.7 257.21,455.76 258.01,455.82 258.82,455.9 259.62,456.01 260.42,456.14 261.22,456.3 262.03,456.49 262.83,456.74 263.63,457.04 264.43,457.42 265.24,457.88 266.04,458.43 266.84,459.1 267.65,459.88 268.45,460.81 269.25,461.92 270.05,463.22 270.86,464.75 271.66,466.52 272.46,468.57 273.27,470.88 274.07,473.45 274.87,476.29 275.67,479.39 276.48,482.75 277.28,486.36 278.08,490.2 278.89,494.26 279.69,498.5 280.49,502.92 281.29,507.49 282.1,512.18 282.9,516.99 283.7,521.88 284.5,526.81 285.31,531.75 286.11,536.66 286.91,541.51 287.72,546.25 288.52,550.81 289.32,555.06 290.12,558.91 290.93,562.24 291.73,564.86 292.53,566.4 293.34,566.44 294.14,564.98 294.94,562.32 295.74,558.79 296.55,554.56 297.35,549.77 298.15,544.52 298.95,538.91 299.76,532.99 300.56,526.74 301.36,520.18 302.17,513.29 302.97,506.1 303.77,498.8 304.57,491.67 305.38,484.96 306.18,478.94 306.98,473.85 307.79,469.75 308.59,466.46 309.39,463.82 310.19,461.72 311,460.27 311.8,459.74 312.6,460.29 313.4,461.76 314.21,463.9 315.01,466.57 315.81,469.89 316.62,474 317.42,479.08 318.22,485.11 319.02,491.82 319.83,498.97 320.63,506.28 321.43,513.5 322.24,520.42 323.04,527.02 323.84,533.28 324.64,539.23 325.45,544.85 326.25,550.12 327.05,554.94 327.86,559.19 328.66,562.77 329.46,565.49 330.26,567.03 331.07,567.09 331.87,565.67 332.67,563.15 333.47,559.91 334.28,556.16 335.08,552 335.88,547.54 336.69,542.9 337.49,538.15 338.29,533.35 339.09,528.51 339.9,523.69 340.7,518.91 341.5,514.21 342.31,509.63 343.11,505.17 343.91,500.87 344.71,496.74 345.52,492.79 346.32,489.06 347.12,485.56 347.92,482.3 348.73,479.3 349.53,476.57 350.33,474.09 351.14,471.87 351.94,469.92 352.74,468.23 353.54,466.79 354.35,465.57 355.15,464.54 355.95,463.69 356.76,462.98 357.56,462.4 358.36,461.92 359.16,461.53 359.97,461.23 360.77,461 361.57,460.83 362.38,460.7 363.18,460.61 363.98,460.56 364.78,460.52 365.59,460.51 366.39,460.51 367.19,460.53 367.99,460.56 368.8,460.59 369.6,460.63 370.4,460.66 371.21,460.7 372.01,460.75 372.81,460.81 373.61,460.89 374.42,460.98 375.22,461.1 376.02,461.24 376.83,461.42 377.63,461.64 378.43,461.92 379.23,462.26 380.04,462.68 380.84,463.18 381.64,463.79 382.44,464.51 383.25,465.36 384.05,466.38 384.85,467.58 385.66,468.98 386.46,470.62 387.26,472.52 388.06,474.67 388.87,477.09 389.67,479.76 390.47,482.68 391.28,485.86 392.08,489.29 392.88,492.95 393.68,496.82 394.49,500.89 395.29,505.12 396.09,509.51 396.89,514.04 397.7,518.68 398.5,523.4 399.3,528.19 400.11,532.99 400.91,537.78 401.71,542.52 402.51,547.17 403.32,551.68 404.12,555.93 404.92,559.82 405.73,563.24 406.53,566.07 407.33,567.98 408.13,568.56 408.94,567.63 409.74,565.41 410.54,562.24 411.35,558.36 412.15,553.88 412.95,548.92 413.75,543.59 414.56,537.94 415.36,531.98 416.16,525.71 416.96,519.12 417.77,512.22 418.57,505.14 419.37,498.13 420.18,491.43 420.98,485.32 421.78,480.04 422.58,475.73 423.39,472.27 424.19,469.51 424.99,467.28 425.8,465.63 426.6,464.78 427.4,464.94 428.2,466.09 429.01,467.97 429.81,470.38 430.61,473.36 431.41,477.07 432.22,481.67 433.02,487.23 433.82,493.55 434.63,500.38 435.43,507.46 436.23,514.53 437.03,521.37 437.84,527.89 438.64,534.09 439.44,539.98 440.25,545.55 441.05,550.8 441.85,555.65 442.65,559.99 443.46,563.71 444.26,566.67 445.06,568.61 445.87,569.21 446.67,568.29 447.47,566.17 448.27,563.23 449.08,559.75 449.88,555.84 450.68,551.6 451.48,547.14 452.29,542.56 453.09,537.9 453.89,533.21 454.7,528.52 455.5,523.85 456.3,519.26 457.1,514.77 457.91,510.39 458.71,506.16 459.51,502.08 460.32,498.18 461.12,494.48 461.92,491 462.72,487.75 463.53,484.75 464.33,482.01 465.13,479.51 465.93,477.27 466.74,475.28 467.54,473.55 468.34,472.07 469.15,470.82 469.95,469.76 470.75,468.87 471.55,468.14 472.36,467.53 473.16,467.04 473.96,466.63 474.77,466.31 475.57,466.06 476.37,465.88 477.17,465.74 477.98,465.65 478.78,465.58 479.58,465.54 480.38,465.52 481.19,465.52 481.99,465.54 482.79,465.56 483.6,465.6 484.4,465.63 485.2,465.67 486,465.7 486.81,465.75 487.61,465.8 488.41,465.87 489.22,465.96 490.02,466.06 490.82,466.19 491.62,466.36 492.43,466.56 493.23,466.8 494.03,467.11 494.84,467.49 495.64,467.96 496.44,468.51 497.24,469.17 498.05,469.95 498.85,470.88 499.65,471.98 500.45,473.27 501.26,474.78 502.06,476.54 502.86,478.54 503.67,480.8 504.47,483.31 505.27,486.07 506.07,489.07 506.88,492.32 507.68,495.79 508.48,499.49 509.29,503.37 510.09,507.43 510.89,511.65 511.69,516 512.5,520.47 513.3,525.03 514.1,529.66 514.9,534.33 515.71,538.99 516.51,543.61 517.31,548.16 518.12,552.6 518.92,556.83 519.72,560.74 520.52,564.24 521.33,567.21 522.13,569.42 522.93,570.48 523.74,570.08 524.54,568.33 525.34,565.54 526.14,562 526.95,557.84 527.75,553.18 528.55,548.11 529.35,542.73 530.16,537.05 530.96,531.07 531.76,524.78 532.57,518.19 533.37,511.35 534.17,504.48 534.97,497.85 535.78,491.69 536.58,486.25 537.38,481.74 538.19,478.11 538.99,475.21 539.79,472.88 540.59,471.06 541.4,469.93 542.2,469.73 543,470.53 543.81,472.14 544.61,474.31 545.41,477 546.21,480.34 547.02,484.48 547.82,489.56 548.62,495.47 549.42,501.95 550.23,508.77 551.03,515.67 551.83,522.42 552.64,528.85 553.44,534.98 554.24,540.81 555.04,546.32 555.85,551.54 556.65,556.39 557.45,560.79 558.26,564.63 559.06,567.79 559.86,570.05 560.66,571.12 561.47,570.73 562.27,569.04 563.07,566.43 563.87,563.22 564.68,559.55 565.48,555.54 566.28,551.27 567.09,546.86 567.89,542.36 568.69,537.81 569.49,533.25 570.3,528.71 571.1,524.23 571.9,519.83 572.71,515.54 573.51,511.38 574.31,507.37 575.11,503.52 575.92,499.86 576.72,496.4 577.52,493.17 578.33,490.18 579.13,487.42 579.93,484.92 580.73,482.65 581.54,480.64 582.34,478.88 583.14,477.36 583.94,476.06 584.75,474.97 585.55,474.06 586.35,473.3 587.16,472.67 587.96,472.15 588.76,471.73 589.56,471.39 590.37,471.13 591.17,470.93 591.97,470.79 592.78,470.68 593.58,470.61 594.38,470.56 595.18,470.54 595.99,470.54 596.79,470.55 597.59,470.57 598.39,470.6 599.2,470.63 600,470.67 600.8,470.7 601.61,470.75 602.41,470.8 603.21,470.86 604.01,470.94 604.82,471.03 605.62,471.15 606.42,471.3 607.23,471.48 608.03,471.71 608.83,471.98 609.63,472.33 610.44,472.75 611.24,473.26 612.04,473.86 612.84,474.58 613.65,475.43 614.45,476.43 615.25,477.62 616.06,479.01 616.86,480.63 617.66,482.49 618.46,484.6 619.27,486.95 620.07,489.54" fill="none" stroke="#c4202f" stroke-width="2.6" stroke-linejoin="round"/></g>
<rect x="139.2" y="388.5" width="493.2" height="246.7" fill="none" stroke="#333" stroke-width="1.1"/>
<path d="M221.4 635.2 v-5 M221.4 388.5 v5 M303.6 635.2 v-5 M303.6 388.5 v5 M385.8 635.2 v-5 M385.8 388.5 v5 M468 635.2 v-5 M468 388.5 v5 M550.2 635.2 v-5 M550.2 388.5 v5 M139.2 428.3 h5 M632.4 428.3 h-5 M139.2 468.1 h5 M632.4 468.1 h-5 M139.2 507.9 h5 M632.4 507.9 h-5 M139.2 547.7 h5 M632.4 547.7 h-5 M139.2 587.5 h5 M632.4 587.5 h-5 M139.2 627.3 h5 M632.4 627.3 h-5" stroke="#333" stroke-width="1" fill="none"/>
<text x="139.5" y="654.9" font-size="16.5" text-anchor="middle">0</text>
<text x="221.7" y="654.9" font-size="16.5" text-anchor="middle">0.05</text>
<text x="303.9" y="654.9" font-size="16.5" text-anchor="middle">0.1</text>
<text x="386.1" y="654.9" font-size="16.5" text-anchor="middle">0.15</text>
<text x="468.3" y="654.9" font-size="16.5" text-anchor="middle">0.2</text>
<text x="550.5" y="654.9" font-size="16.5" text-anchor="middle">0.25</text>
<text x="632.7" y="654.9" font-size="16.5" text-anchor="middle">0.3</text>
<text x="126.6" y="394" font-size="16.5" text-anchor="end">1</text>
<text x="131.2" y="433.8" font-size="16.5" text-anchor="end">0.9</text>
<text x="131.2" y="473.6" font-size="16.5" text-anchor="end">0.8</text>
<text x="131.2" y="513.4" font-size="16.5" text-anchor="end">0.7</text>
<text x="131.2" y="553.2" font-size="16.5" text-anchor="end">0.6</text>
<text x="131.2" y="593" font-size="16.5" text-anchor="end">0.5</text>
<text x="131.2" y="632.8" font-size="16.5" text-anchor="end">0.4</text>
<text x="60.8" y="409.3" font-size="22" font-weight="bold">d</text>
<text x="310.2" y="676.2" font-size="20" letter-spacing="0.6" word-spacing="2"><tspan font-style="italic">T</tspan> = 4<tspan font-style="italic">τ</tspan> (<tspan font-style="italic">s</tspan>)</text>
<text transform="translate(96.3 534.3) rotate(-90)" font-size="21.4"><tspan font-style="italic">P</tspan>(|1⟩)</text>
<text x="448.2" y="411.3" font-size="19.2">200 ms</text>
<path d="M468.3 414.4 V440" stroke="#000" stroke-width="4.4" fill="none"/>
<polygon points="463.9,439.2 472.7,439.2 468.3,446.6" fill="#000"/>
</g>
</svg></body></html>
